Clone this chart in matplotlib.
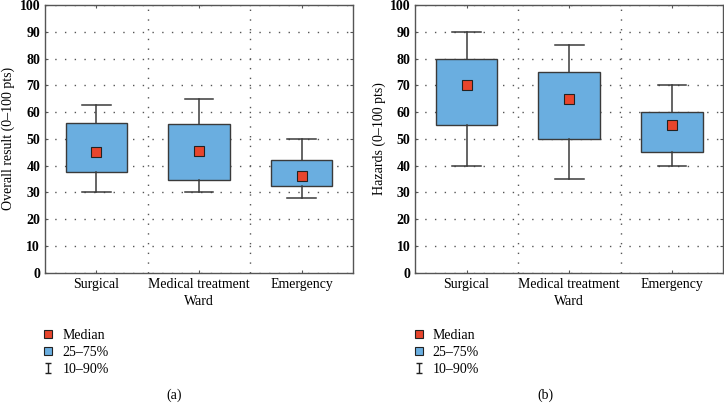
import numpy as np
import matplotlib.pyplot as plt
from matplotlib.lines import Line2D
from matplotlib.path import Path

plt.rcParams['font.family'] = ['Liberation Serif', 'DejaVu Serif']

wards = ['Surgical', 'Medical treatment', 'Emergency']

# panel (a): overall result
a_median = [45, 45.5, 36]
a_q1 = [37.5, 34.5, 32.5]
a_q3 = [56, 55.5, 42]
a_p10 = [30, 30, 28]
a_p90 = [62.5, 65, 50]

# panel (b): hazards
b_median = [70, 65, 55]
b_q1 = [55, 50, 45]
b_q3 = [80, 75, 60]
b_p10 = [40, 35, 40]
b_p90 = [90, 85, 70]

box_color = '#6aaee0'
med_color = '#e8452c'
edge = '#3a3a3a'

# "I" shaped marker for the 10-90% legend entry
cap_path = Path([(-0.6, -1), (0.6, -1), (0, -1), (0, 1), (-0.6, 1), (0.6, 1)],
                [Path.MOVETO, Path.LINETO, Path.MOVETO, Path.LINETO,
                 Path.MOVETO, Path.LINETO])


def draw_panel(ax, med, q1, q3, lo, hi, ylabel):
    pos = np.arange(len(wards)) + 0.5
    stats = []
    for i in range(len(wards)):
        stats.append(dict(med=med[i], q1=q1[i], q3=q3[i],
                          whislo=lo[i], whishi=hi[i], fliers=[]))
    ax.bxp(stats, positions=pos, widths=0.6, patch_artist=True,
           showfliers=False,
           boxprops=dict(facecolor=box_color, edgecolor=edge, linewidth=1.0),
           whiskerprops=dict(color=edge, linewidth=1.1),
           capprops=dict(color=edge, linewidth=1.1),
           medianprops=dict(visible=False),
           capwidths=0.28)
    ax.plot(pos, med, linestyle='none', marker='s', markersize=7,
            markerfacecolor=med_color, markeredgecolor='#222222',
            markeredgewidth=0.8, zorder=5)

    ax.set_xlim(0, 3)
    ax.set_ylim(0, 100)
    ax.set_xticks(pos)
    ax.set_xticklabels(wards, fontsize=10)
    ax.set_xticks([1, 2], minor=True)
    ax.set_yticks(np.arange(0, 101, 10))
    ax.tick_params(axis='y', labelsize=10, direction='in', length=2.5,
                   right=True, colors='#555555', labelcolor='black')
    ax.tick_params(axis='x', which='major', direction='in', length=2.5,
                   top=True, colors='#555555', labelcolor='black')
    ax.tick_params(axis='x', which='minor', length=0)
    for lab in ax.get_yticklabels():
        lab.set_fontweight('bold')
    ax.grid(True, axis='y', which='major', linestyle=(0, (1, 6)),
            color='#555555', linewidth=1.0)
    ax.grid(True, axis='x', which='minor', linestyle=(0, (1, 6)),
            color='#555555', linewidth=1.0)
    ax.set_axisbelow(True)
    for s in ax.spines.values():
        s.set_color('#555555')
        s.set_linewidth(1.0)
    ax.set_xlabel('Ward', fontsize=10, labelpad=3)
    ax.set_ylabel(ylabel, fontsize=10, labelpad=3)

    handles = [
        Line2D([], [], linestyle='none', marker='s', markersize=6,
               markerfacecolor=med_color, markeredgecolor='#222222',
               markeredgewidth=0.8),
        Line2D([], [], linestyle='none', marker='s', markersize=6,
               markerfacecolor=box_color, markeredgecolor='#222222',
               markeredgewidth=0.8),
        Line2D([], [], linestyle='none', marker=cap_path, markersize=7,
               markerfacecolor='none', markeredgecolor='#222222',
               markeredgewidth=1.0),
    ]
    ax.legend(handles, ['Median', '25\u201375%', '10\u201390%'],
              loc='upper left', bbox_to_anchor=(-0.025, -0.19),
              frameon=False, fontsize=10, handlelength=0.8,
              handletextpad=0.6, labelspacing=0.28, borderaxespad=0)


fig = plt.figure(figsize=(7.24, 4.12), dpi=100)
ax1 = fig.add_axes([0.0622, 0.338, 0.4254, 0.65])
ax2 = fig.add_axes([0.5736, 0.338, 0.4254, 0.65])

draw_panel(ax1, a_median, a_q1, a_q3, a_p10, a_p90, 'Overall result (0\u2013100 pts)')
draw_panel(ax2, b_median, b_q1, b_q3, b_p10, b_p90, 'Hazards (0\u2013100 pts)')

fig.text(0.240, 0.041, '(a)', ha='center', va='center', fontsize=10)
fig.text(0.753, 0.041, '(b)', ha='center', va='center', fontsize=10)

fig.savefig('out.png', dpi=100)
